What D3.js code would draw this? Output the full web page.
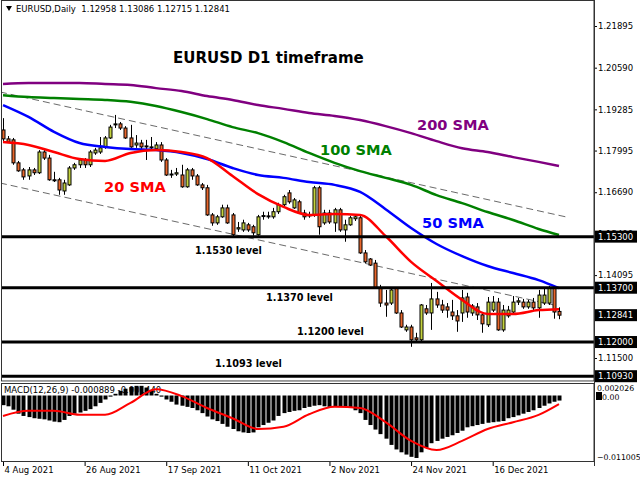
<!DOCTYPE html>
<html><head><meta charset="utf-8">
<script src="https://cdn.jsdelivr.net/npm/d3@7"></script>
<style>
html,body{margin:0;padding:0;background:#fff;}
svg{display:block;}
text{font-family:"DejaVu Sans",sans-serif;}
</style></head><body>
<svg id="c" width="640" height="480"></svg>
<script>
// ---- data ----
const opens = [1.1864,1.1836,1.1833,1.1761,1.1739,1.1720,1.1739,1.1730,1.1795,1.1776,
1.1708,1.1708,1.1673,1.1692,1.1745,1.1755,1.1770,1.1755,1.1792,1.1795,
1.1811,1.1839,1.1880,1.1883,1.1870,1.1839,1.1817,1.1823,1.1814,1.1811,
1.1805,1.1817,1.1770,1.1723,1.1726,1.1723,1.1686,1.1739,1.1720,1.1692,
1.1683,1.1598,1.1573,1.1592,1.1620,1.1598,1.1554,1.1551,1.1567,1.1561,
1.1536,1.1595,1.1595,1.1592,1.1608,1.1630,1.1667,1.1620,1.1639,1.1604,
1.1598,1.1598,1.1683,1.1573,1.1604,1.1573,1.1614,1.1551,1.1567,1.1586,
1.1589,1.1479,1.1460,1.1447,1.1369,1.1322,1.1322,1.1369,1.1291,1.1238,
1.1247,1.1213,1.1207,1.1304,1.1291,1.1335,1.1316,1.1310,1.1294,1.1282,
1.1291,1.1341,1.1291,1.1310,1.1285,1.1254,1.1300,1.1325,1.1238,1.1282,
1.1294,1.1325,1.1325,1.1310,1.1325,1.1307,1.1322,1.1322,1.1369,1.12958];
const highs = [1.1901,1.1845,1.1839,1.1767,1.1745,1.1748,1.1745,1.1801,1.1801,1.1786,
1.1733,1.1714,1.1708,1.1751,1.1761,1.1776,1.1776,1.1801,1.1808,1.1842,
1.1845,1.1880,1.1911,1.1889,1.1876,1.1880,1.1848,1.1833,1.1833,1.1842,
1.1826,1.1826,1.1776,1.1739,1.1745,1.1755,1.1745,1.1745,1.1726,1.1698,
1.1692,1.1604,1.1598,1.1630,1.1630,1.1604,1.1576,1.1583,1.1573,1.1567,
1.1598,1.1608,1.1608,1.1620,1.1636,1.1661,1.1676,1.1651,1.1645,1.1614,
1.1608,1.1689,1.1689,1.1614,1.1614,1.1620,1.1620,1.1583,1.1595,1.1598,
1.1595,1.1488,1.1463,1.1457,1.1379,1.1363,1.1369,1.1372,1.1300,1.1254,
1.1254,1.1229,1.1319,1.1316,1.1385,1.1357,1.1332,1.1322,1.1332,1.1300,
1.1363,1.1354,1.1319,1.1322,1.1294,1.1341,1.1344,1.1338,1.1316,1.1313,
1.1344,1.1338,1.1335,1.1332,1.1338,1.1363,1.1372,1.1376,1.1376,1.13086];
const lows = [1.1826,1.1823,1.1755,1.1733,1.1708,1.1708,1.1723,1.1726,1.1770,1.1705,
1.1701,1.1661,1.1661,1.1689,1.1739,1.1745,1.1745,1.1748,1.1786,1.1789,
1.1805,1.1836,1.1870,1.1864,1.1836,1.1808,1.1808,1.1801,1.1770,1.1801,
1.1801,1.1764,1.1720,1.1714,1.1720,1.1683,1.1683,1.1708,1.1689,1.1676,
1.1595,1.1564,1.1567,1.1589,1.1570,1.1529,1.1545,1.1545,1.1545,1.1533,
1.1533,1.1583,1.1586,1.1586,1.1601,1.1623,1.1633,1.1617,1.1601,1.1583,
1.1589,1.1592,1.1536,1.1567,1.1570,1.1545,1.1545,1.1514,1.1564,1.1579,
1.1476,1.1447,1.1438,1.1366,1.1310,1.1279,1.1316,1.1288,1.1244,1.1232,
1.1185,1.1200,1.1200,1.1285,1.1238,1.1307,1.1291,1.1276,1.1269,1.1232,
1.1263,1.1276,1.1282,1.1269,1.1229,1.1247,1.1294,1.1235,1.1232,1.1276,
1.1288,1.1316,1.1304,1.1304,1.1300,1.1276,1.1316,1.1316,1.1273,1.12715];
const closes = [1.1836,1.1826,1.1761,1.1736,1.1717,1.1739,1.1730,1.1795,1.1776,1.1708,
1.1706,1.1676,1.1698,1.1745,1.1755,1.1770,1.1755,1.1795,1.1801,1.1808,
1.1839,1.1873,1.1883,1.1870,1.1839,1.1811,1.1823,1.1811,1.1811,1.1808,
1.1817,1.1770,1.1723,1.1726,1.1730,1.1686,1.1739,1.1720,1.1692,1.1683,
1.1598,1.1573,1.1592,1.1620,1.1573,1.1536,1.1558,1.1573,1.1551,1.1542,
1.1592,1.1596,1.1594,1.1608,1.1630,1.1655,1.1639,1.1645,1.1604,1.1592,
1.1597,1.1683,1.1561,1.1604,1.1576,1.1614,1.1551,1.1567,1.1589,1.1592,
1.1479,1.1451,1.1441,1.1369,1.1322,1.1316,1.1363,1.1291,1.1247,1.1247,
1.1207,1.1207,1.1316,1.1291,1.1335,1.1316,1.1300,1.1300,1.1282,1.1266,
1.1338,1.1294,1.1313,1.1285,1.1257,1.1325,1.1325,1.1238,1.1300,1.1300,
1.1325,1.1329,1.1310,1.1325,1.1307,1.1347,1.1347,1.1369,1.1294,1.12841];

const tickIdx = [0,16,32,48,64,80,96];
const tickLabels = ["4 Aug 2021","26 Aug 2021","17 Sep 2021","11 Oct 2021","2 Nov 2021","24 Nov 2021","16 Dec 2021"];

const smaIdx = [0,5,10,15,20,25,30,35,40,45,50,55,60,65,70,75,80,85,90,95,100,105,109];
const sma20  = [1.1826,1.1817,1.1795,1.1773,1.1767,1.1792,1.1801,1.1795,1.1776,1.1720,1.1663,1.1623,1.1598,1.1601,1.1598,1.1532,1.1451,1.1391,1.1332,1.1288,1.1288,1.1300,1.1303];
const sma50  = [1.1942,1.1905,1.1858,1.1823,1.1811,1.1804,1.1801,1.1792,1.1773,1.1745,1.1723,1.1714,1.1701,1.1692,1.1670,1.1616,1.1557,1.1507,1.1469,1.1438,1.1416,1.1394,1.1369];
const sma100 = [1.1973,1.1967,1.1964,1.1961,1.1958,1.1952,1.1939,1.1920,1.1898,1.1873,1.1854,1.1826,1.1792,1.1761,1.1735,1.1714,1.1692,1.1660,1.1635,1.1607,1.1582,1.1554,1.1535];
const sma200 = [1.2008,1.2011,1.2011,1.2011,1.2008,1.2005,1.1995,1.1986,1.1970,1.1958,1.1942,1.1930,1.1917,1.1908,1.1895,1.1876,1.1854,1.1829,1.1807,1.1795,1.1779,1.1764,1.1751];

const macdHist = [-0.0017,-0.0019,-0.0025,-0.0032,-0.0036,-0.0038,-0.0040,-0.0041,-0.0042,-0.0044,
-0.0046,-0.0047,-0.0043,-0.0036,-0.0032,-0.0030,-0.0027,-0.0024,-0.0019,-0.0013,
-0.0007,-0.0002,0.0003,0.0008,0.0012,0.0015,0.0017,0.0017,0.0014,0.0010,
0.0003,-0.0002,-0.0007,-0.0011,-0.0016,-0.0018,-0.0020,-0.0022,-0.0026,-0.0031,
-0.0037,-0.0042,-0.0045,-0.0050,-0.0055,-0.0059,-0.0063,-0.0065,-0.0066,-0.0065,
-0.0056,-0.0052,-0.0048,-0.0044,-0.0036,-0.0031,-0.0029,-0.0027,-0.0026,-0.0022,
-0.0020,-0.0018,-0.0017,-0.0019,-0.0020,-0.0020,-0.0020,-0.0020,-0.0022,-0.0026,
-0.0031,-0.0043,-0.0052,-0.0060,-0.0068,-0.0076,-0.0087,-0.0095,-0.0100,-0.0104,
-0.0108,-0.0110,-0.0100,-0.0092,-0.0084,-0.0080,-0.0076,-0.0073,-0.0070,-0.0066,
-0.0062,-0.0056,-0.0054,-0.0052,-0.0050,-0.0048,-0.0047,-0.0046,-0.0045,-0.0040,
-0.0038,-0.0035,-0.0032,-0.0029,-0.0026,-0.0022,-0.0018,-0.0014,-0.0011,-0.000889];
const macdSignal = [-0.0036,-0.0027,-0.0027,-0.0034,-0.0034,-0.0013,0.0011,-0.0001,-0.0022,-0.0040,-0.0059,-0.0055,-0.0033,-0.0020,-0.0022,-0.0047,-0.0080,-0.0096,-0.0080,-0.0059,-0.0047,-0.0034,-0.0015];

const levels = [1.1530,1.1370,1.1200,1.1093];
const levelNames = ["1.1530 level","1.1370 level","1.1200 level","1.1093 level"];
const levelBoxes = ["1.15300","1.13700","1.12000","1.10930"];
const priceTicks = [1.21895,1.20590,1.19285,1.17995,1.16690,1.15400,1.14095,1.11500];
const macdTicks = [0.002026,-0.011005];
const trendUpper = [[-0.6,1.1983],[110.6,1.1591]];
const trendLower = [[-0.6,1.1698],[108,1.1316]];
const lastPrice = 1.12841;

// ---- scales ----
const svg = d3.select("#c");
const x = d3.scaleLinear().domain([0,109]).range([3,559]);
const y = d3.scaleLinear().domain([1.10930,1.21895]).range([376.2,26]);
const ym = d3.scaleLinear().domain([-0.011005,0]).range([458,395.5]);
const R = 594;

const defs = svg.append("defs");
defs.append("clipPath").attr("id","cm").append("rect").attr("x",1).attr("y",1).attr("width",R-1).attr("height",380);
defs.append("clipPath").attr("id","cd").append("rect").attr("x",1).attr("y",383).attr("width",R-1).attr("height",79);

const main = svg.append("g").attr("clip-path","url(#cm)");

// trend channel
[trendUpper,trendLower].forEach(t=>{
  main.append("line").attr("x1",x(t[0][0])).attr("y1",y(t[0][1])).attr("x2",x(t[1][0])).attr("y2",y(t[1][1]))
    .attr("stroke","#444").attr("stroke-width",0.8).attr("stroke-dasharray","7,4");
});

// candles
const idx = d3.range(opens.length);
const cg = main.append("g");
cg.selectAll("line.w").data(idx).join("line")
  .attr("x1",i=>Math.round(x(i))+0.5).attr("x2",i=>Math.round(x(i))+0.5)
  .attr("y1",i=>y(highs[i])).attr("y2",i=>y(lows[i]))
  .attr("stroke","#000").attr("stroke-width",1);
cg.selectAll("rect.b").data(idx).join("rect")
  .attr("x",i=>Math.round(x(i))-1)
  .attr("width",3)
  .attr("y",i=>y(Math.max(opens[i],closes[i])))
  .attr("height",i=>Math.max(1,Math.abs(y(opens[i])-y(closes[i]))))
  .attr("fill",i=>closes[i]>=opens[i]?"#c4d23e":"#e8672c")
  .attr("stroke","#000").attr("stroke-width",1);

// SMA lines
const lineGen = d3.line().x((d,i)=>x(smaIdx[i])).y(d=>y(d)).curve(d3.curveMonotoneX);
[[sma200,"#800080"],[sma100,"#008000"],[sma50,"#0000ff"],[sma20,"#ff0000"]].forEach(([s,c])=>{
  main.append("path").attr("d",lineGen(s)).attr("fill","none").attr("stroke",c).attr("stroke-width",2.5);
});

// horizontal levels
main.selectAll("line.lv").data(levels).join("line")
  .attr("x1",1).attr("x2",R).attr("y1",d=>y(d)).attr("y2",d=>y(d))
  .attr("stroke","#000").attr("stroke-width",3);

// texts
const bold = (t,xx,yy,size,col)=>svg.append("text").attr("x",xx).attr("y",yy).attr("dy","0.36em")
  .attr("font-size",size).attr("font-weight","bold").attr("fill",col).text(t);
bold("EURUSD D1 timeframe",173,58,15,"#000");
bold("200 SMA",417,125,14.6,"#800080");
bold("100 SMA",320,150,14.6,"#008000");
bold("20 SMA",104,187,14.6,"#ff0000");
bold("50 SMA",422,223,14.6,"#0000ff");
const lvPos = [[195,250.7],[266,298],[297,331.7],[215,364]];
levelNames.forEach((t,i)=>bold(t,lvPos[i][0],lvPos[i][1],9.7,"#000"));

// header
svg.append("path").attr("d","M6,6 L12,6 L9,11 Z").attr("fill","#000");
svg.append("text").attr("x",16).attr("y",9).attr("dy","0.36em").attr("font-size",8.5).attr("fill","#000")
  .attr("xml:space","preserve").text("EURUSD,Daily  1.12958 1.13086 1.12715 1.12841");

// MACD window
const md = svg.append("g").attr("clip-path","url(#cd)");
md.append("text").attr("x",4).attr("y",390).attr("dy","0.36em").attr("font-size",8.5).attr("fill","#000")
  .text("MACD(12,26,9) -0.000889 -0.001440");
md.selectAll("rect.h").data(idx).join("rect")
  .attr("x",i=>Math.round(x(i))-1.5).attr("width",4)
  .attr("y",i=>Math.min(ym(0),ym(macdHist[i])))
  .attr("height",i=>Math.abs(ym(macdHist[i])-ym(0)))
  .attr("fill","#000");
md.append("path").attr("d",d3.line().x((d,i)=>x(smaIdx[i])).y(d=>ym(d)).curve(d3.curveMonotoneX)(macdSignal))
  .attr("fill","none").attr("stroke","#ff0000").attr("stroke-width",2);

// frames
svg.append("rect").attr("x",1.5).attr("y",0.5).attr("width",R-1.5).attr("height",380.5).attr("fill","none").attr("stroke","#333").attr("stroke-width",1);
svg.append("line").attr("x1",1).attr("x2",R).attr("y1",381.5).attr("y2",381.5).attr("stroke","#aaa");
svg.append("rect").attr("x",1.5).attr("y",383.5).attr("width",R-1.5).attr("height",78).attr("fill","none").attr("stroke","#333").attr("stroke-width",1);

// price axis
const ax = svg.append("g").attr("transform",`translate(${R},0)`)
  .call(d3.axisRight(y).tickValues(priceTicks).tickFormat(d3.format(".5f")).tickSize(3).tickPadding(1));
ax.select(".domain").remove();
ax.selectAll("text").attr("font-size",8.5).attr("font-family","DejaVu Sans").attr("fill","#000");
ax.selectAll("line").attr("stroke","#000");

// level boxes + last price box
const boxes = levels.map((d,i)=>[d,levelBoxes[i]]).concat([[lastPrice,d3.format(".5f")(lastPrice)]]);
const bx = svg.selectAll("g.bx").data(boxes).join("g").attr("transform",d=>`translate(${R},${y(d[0])})`);
bx.append("rect").attr("x",0).attr("y",-6).attr("width",43).attr("height",12).attr("fill","#000");
bx.append("text").attr("x",4).attr("dy","0.36em").attr("font-size",8.5).attr("fill","#fff").text(d=>d[1]);

// macd axis
const mx = svg.append("g");
mx.selectAll("text").data(macdTicks).join("text")
  .attr("x",R+3).attr("y",(d,i)=>i===0?ym(d)+4:ym(d)-1).attr("dy","0.36em")
  .attr("font-size",7.8).attr("fill","#000").text(d=>d3.format(".6f")(d));
mx.append("rect").attr("x",R+2).attr("y",392).attr("width",6).attr("height",8).attr("fill","#000");
mx.append("text").attr("x",R+8).attr("y",397).attr("dy","0.36em").attr("font-size",7.8).attr("fill","#000").text("0.00");

// date axis
const dx = svg.append("g").attr("transform","translate(0,462)")
  .call(d3.axisBottom(x).tickValues(tickIdx).tickFormat((d,i)=>tickLabels[i]).tickSize(4).tickPadding(1));
dx.select(".domain").remove();
dx.selectAll("text").attr("text-anchor","start").attr("dx",1).attr("font-size",8.5).attr("font-family","DejaVu Sans").attr("fill","#000");
dx.selectAll("line").attr("stroke","#000");
svg.append("line").attr("x1",R+0.5).attr("x2",R+0.5).attr("y1",0).attr("y2",466).attr("stroke","#333");
</script>
</body></html>
